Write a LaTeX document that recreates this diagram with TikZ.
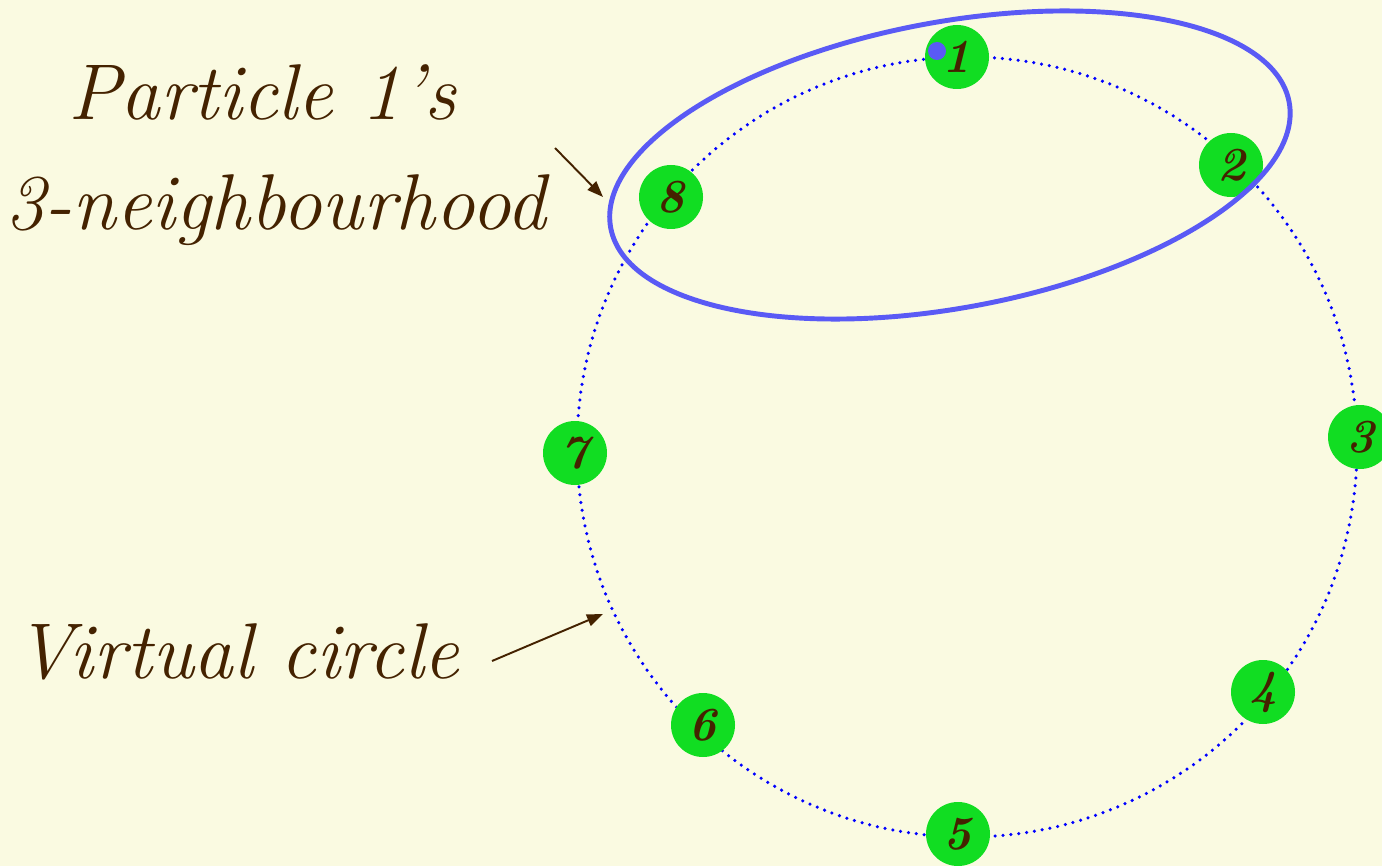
\documentclass[tikz,border=0pt]{standalone}
\usepackage{fontspec}
\usetikzlibrary{arrows.meta}
\definecolor{paper}{RGB}{250,250,225}
\definecolor{ink}{RGB}{68,34,0}
\definecolor{partgreen}{RGB}{17,221,34}
\definecolor{ringblue}{RGB}{0,0,255}
\definecolor{hoodblue}{RGB}{90,90,245}
\tikzset{
  particle/.style={circle,fill=partgreen,minimum size=12.8mm,inner sep=0pt,text=ink,
    font=\fontsize{27}{27}\selectfont\bfseries\itshape},
  ring/.style={draw=ringblue,line width=2pt,dash pattern=on 0pt off 4.5pt,line cap=round},
  hood/.style={draw=hoodblue,line width=2.8pt},
  note/.style={text=ink,font=\fontsize{45}{50}\selectfont\itshape,inner sep=0pt},
  pointer/.style={-{Triangle[length=3.2mm,width=2.4mm]},ink,line width=1.1pt},
}

\begin{document}
\begin{tikzpicture}[x=0.2mm,y=-0.2mm]
\useasboundingbox (0,0) rectangle (1382,866);
\clip (0,0) rectangle (1382,866);
\fill[paper] (0,0) rectangle (1382,866);

% virtual circle
\coordinate (O) at (967,447);
\draw[ring] (O) circle[radius=78mm];

% particles on the circle
\node[particle] (p1) at (957,57) {1};
\node[particle] (p2) at (1231,165) {2};
\node[particle] (p3) at (1360,437) {3};
\node[particle] (p4) at (1263,692) {4};
\node[particle] (p5) at (958,834) {5};
\node[particle] (p6) at (703,725) {6};
\node[particle] (p7) at (575,453) {7};
\node[particle] (p8) at (671,197) {8};

% neighbourhood of particle 1
\coordinate (H) at (950,165);
\draw[hood,rotate around={10.5:(H)}] (H) ellipse[x radius=69mm,y radius=28.6mm];
\fill[hoodblue] ([shift={(-20,-6)}]p1.center) circle[radius=1.8mm];

% labels
\node[note,anchor=base west] (hoodlab) at (68,120) {Particle 1's};
\node[note,anchor=base west] (hoodlab2) at (5,230) {3-neighbourhood};
\node[note,anchor=base west] (ringlab) at (15,678) {Virtual circle};
\coordinate (hoodtail) at (555,148);
\coordinate (hoodtip) at (603,197);
\coordinate (ringtail) at (492,661);
\coordinate (ringtip) at (603,614);
\draw[pointer] (hoodtail) -- (hoodtip);
\draw[pointer] (ringtail) -- (ringtip);
\end{tikzpicture}
\end{document}
